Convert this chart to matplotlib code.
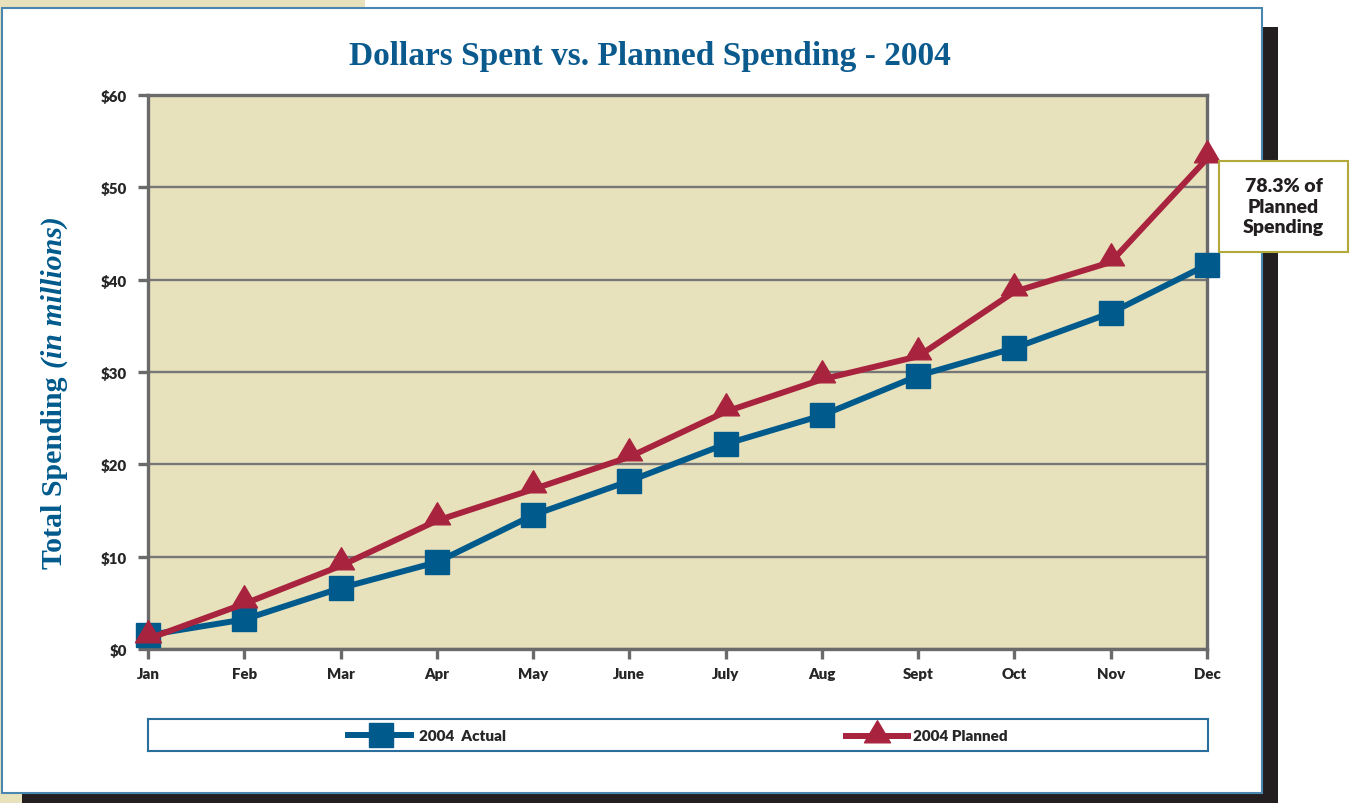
import matplotlib
matplotlib.use("Agg")
import matplotlib.pyplot as plt
from matplotlib.patches import Rectangle
from matplotlib.path import Path

# data (millions of dollars, cumulative)
months = ["Jan", "Feb", "Mar", "Apr", "May", "June", "July", "Aug", "Sept", "Oct", "Nov", "Dec"]
actual = [1.5, 3.2, 6.6, 9.4, 14.5, 18.2, 22.2, 25.3, 29.6, 32.6, 36.4, 41.6]
planned = [1.1, 4.9, 9.0, 13.9, 17.3, 20.8, 25.7, 29.2, 31.7, 38.7, 41.9, 53.1]
y_ticks = [0, 10, 20, 30, 40, 50, 60]
y_labels = ["$0", "$10", "$20", "$30", "$40", "$50", "$60"]
title = "Dollars Spent vs. Planned Spending - 2004"
note = "78.3% of\nPlanned\nSpending"

W, H = 1353, 804
BLUE = "#005a8c"
RED = "#a8233e"
BEIGE = "#e8e2bc"
GREY = "#6a6a6a"
INK = "#262626"


def box(x0, y0, x1, y1):
    # image pixels (top-left origin) -> figure fractions
    return [x0 / W, 1 - y1 / H, (x1 - x0) / W, (y1 - y0) / H]


def frect(fig, x0, y0, x1, y1, **kw):
    l, b, w, h = box(x0, y0, x1, y1)
    fig.patches.append(Rectangle((l, b), w, h, transform=fig.transFigure, **kw))


# triangle whose anchor sits near the base, like the original
tri = Path([(0, 1.7), (-1.18, -0.3), (1.18, -0.3), (0, 1.7)],
           [Path.MOVETO, Path.LINETO, Path.LINETO, Path.CLOSEPOLY])

fig = plt.figure(figsize=(W / 100, H / 100), dpi=100)
fig.patch.set_facecolor("white")

# page background, drop shadow and white panel
frect(fig, 0, 0, 365, 804, fc=BEIGE, ec="none", zorder=-10)
frect(fig, 22, 28, 1278, 804, fc="#231f20", ec="none", zorder=-9)
frect(fig, 1.5, 9, 1262, 794, fc="white", ec="#4a87b0", lw=1.5, zorder=-8)

ax = fig.add_axes(box(148, 96, 1207, 650))
ax.set_facecolor(BEIGE)
x = list(range(len(months)))
ax.plot(x, actual, color=BLUE, lw=4.3, marker="s", ms=17, clip_on=False, zorder=3)
ax.plot(x, planned, color=RED, lw=4.3, marker=tri, ms=27, clip_on=False, zorder=4)

ax.set_xlim(0, len(months) - 1)
ax.set_ylim(0, 60)
ax.set_xticks(x)
ax.set_xticklabels(months)
ax.set_yticks(y_ticks)
ax.set_yticklabels(y_labels)
ax.yaxis.grid(True, color="#777777", lw=1.7)
ax.set_axisbelow(True)
for s in ax.spines.values():
    s.set_color(GREY)
    s.set_linewidth(2.4)
ax.tick_params(axis="both", length=7, width=2.4, color=GREY, labelcolor=INK)
ax.tick_params(axis="y", pad=8)
ax.tick_params(axis="x", pad=6)
for lab in ax.get_xticklabels() + ax.get_yticklabels():
    lab.set_family("Lato")
    lab.set_weight("heavy")
    lab.set_fontsize(10.8)

# title
fig.text(650 / W, 1 - 56 / H, title, ha="center", va="center", fontsize=24,
         family="Liberation Serif", weight="bold", color="#0b5a8e")

# y label in two styles
t1 = fig.text(62 / W, 1 - 569 / H, "Total Spending", rotation=90, rotation_mode="anchor",
              ha="left", va="baseline", fontsize=21.5, family="Liberation Serif",
              weight="bold", color=BLUE)
fig.canvas.draw()
bb = t1.get_window_extent(fig.canvas.get_renderer())
fig.text(62 / W, (bb.y1 + 8) / H, "(in millions)", rotation=90, rotation_mode="anchor",
         ha="left", va="baseline", fontsize=21.5, family="Liberation Serif",
         weight="bold", style="italic", color=BLUE)

# note box
frect(fig, 1219, 162, 1348, 253, fc="white", ec="#b3a93a", lw=1.5, zorder=5)
fig.text(1283.5 / W, 1 - 207.5 / H, note, ha="center", va="center", fontsize=14,
         family="Lato", weight="heavy", linespacing=1.25, color="#231f20", zorder=6)

# legend strip
lax = fig.add_axes(box(148, 720, 1208, 752))
lax.set_xlim(148, 1208)
lax.set_ylim(752, 720)
lax.set_xticks([])
lax.set_yticks([])
for s in lax.spines.values():
    s.set_color("#2a6e9e")
    s.set_linewidth(1.5)
lax.plot([348, 411], [736, 736], color=BLUE, lw=4.3)
lax.plot([381], [736], color=BLUE, marker="s", ms=17)
lax.text(419, 737, "2004  Actual", va="center", fontsize=11, family="Lato",
         weight="heavy", color=INK)
lax.plot([846, 908], [737, 737], color=RED, lw=4.3)
lax.plot([877], [740], color=RED, marker=tri, ms=27)
lax.text(913, 737, "2004 Planned", va="center", fontsize=11, family="Lato",
         weight="heavy", color=INK)

fig.savefig("out.png", dpi=100)
